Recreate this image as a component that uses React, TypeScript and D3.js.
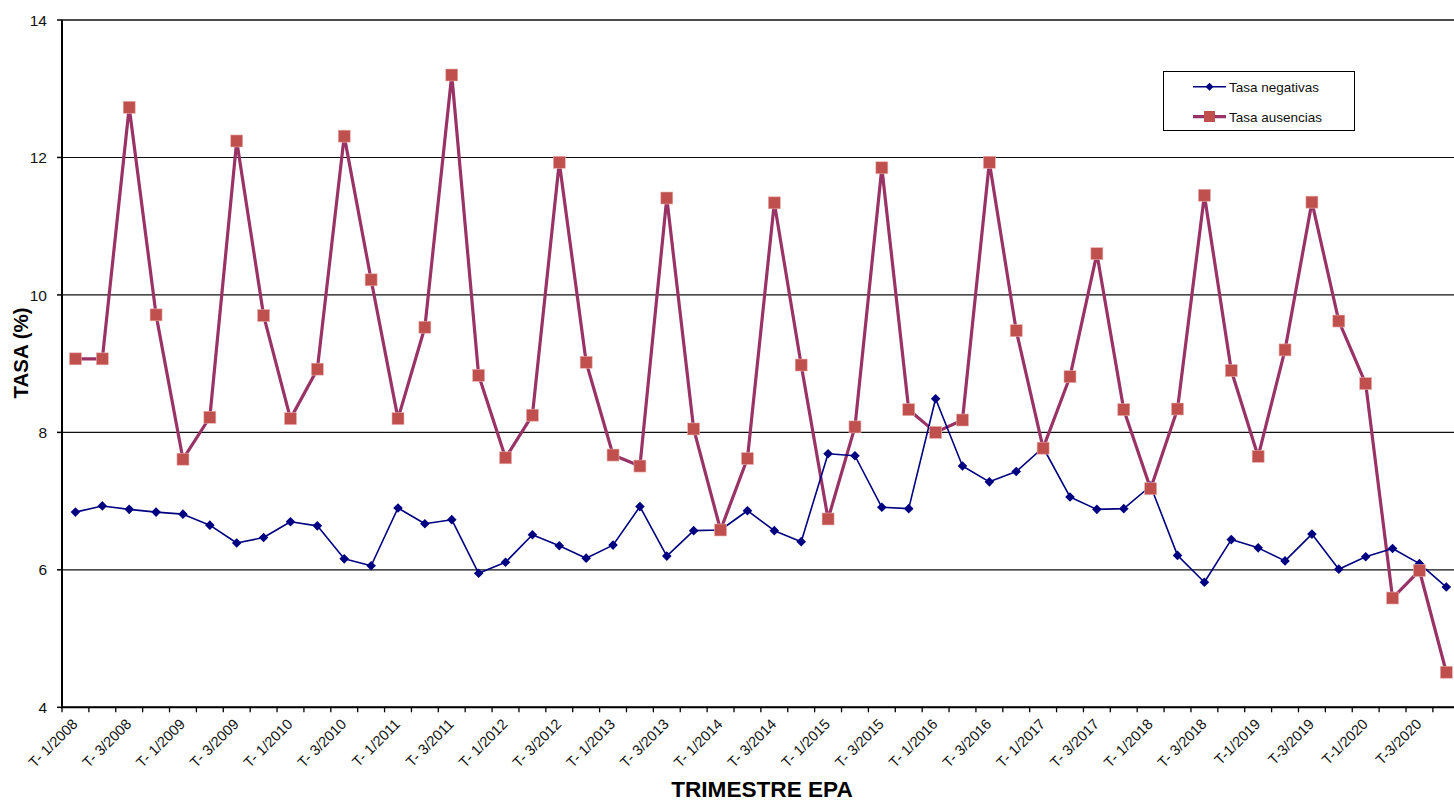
import React from "react";
import * as d3 from "d3";

const categories: string[] = [
  "T- 1/2008", "T- 2/2008", "T- 3/2008", "T- 4/2008",
  "T- 1/2009", "T- 2/2009", "T- 3/2009", "T- 4/2009",
  "T- 1/2010", "T- 2/2010", "T- 3/2010", "T- 4/2010",
  "T- 1/2011", "T- 2/2011", "T- 3/2011", "T- 4/2011",
  "T- 1/2012", "T- 2/2012", "T- 3/2012", "T- 4/2012",
  "T- 1/2013", "T- 2/2013", "T- 3/2013", "T- 4/2013",
  "T- 1/2014", "T- 2/2014", "T- 3/2014", "T- 4/2014",
  "T- 1/2015", "T- 2/2015", "T- 3/2015", "T- 4/2015",
  "T- 1/2016", "T- 2/2016", "T- 3/2016", "T- 4/2016",
  "T- 1/2017", "T- 2/2017", "T- 3/2017", "T- 4/2017",
  "T- 1/2018", "T- 2/2018", "T- 3/2018", "T- 4/2018",
  "T-1/2019", "T-2/2019", "T-3/2019", "T-4/2019",
  "T-1/2020", "T-2/2020", "T-3/2020", "T-4/2020",
];

const tasaNegativas: number[] = [
  6.84, 6.93, 6.88, 6.84, 6.81, 6.65, 6.39, 6.47,
  6.70, 6.64, 6.16, 6.06, 6.90, 6.67, 6.73, 5.95,
  6.11, 6.51, 6.35, 6.17, 6.36, 6.92, 6.20, 6.57,
  6.58, 6.86, 6.57, 6.41, 7.69, 7.66, 6.91, 6.89,
  8.49, 7.51, 7.28, 7.43, 7.78, 7.06, 6.88, 6.89,
  7.22, 6.21, 5.82, 6.44, 6.32, 6.13, 6.52, 6.01,
  6.19, 6.31, 6.09, 5.75,
];

const tasaAusencias: number[] = [
  9.07, 9.07, 12.73, 9.71, 7.61, 8.22, 12.24, 9.70,
  8.20, 8.92, 12.31, 10.22, 8.20, 9.53, 13.20, 8.83,
  7.63, 8.25, 11.93, 9.02, 7.67, 7.51, 11.41, 8.05,
  6.58, 7.62, 11.34, 8.98, 6.74, 8.08, 11.85, 8.33,
  8.00, 8.18, 11.93, 9.48, 7.77, 8.81, 10.60, 8.33,
  7.18, 8.34, 11.45, 8.90, 7.65, 9.20, 11.35, 9.62,
  8.71, 5.59, 5.99, 4.51,
];

const yTicks: number[] = [4, 6, 8, 10, 12, 14];

const seriesNames = ["Tasa negativas", "Tasa ausencias"];

const W = 1454;
const H = 801;
const FONT = "'Liberation Sans', Arial, sans-serif";

export default function App() {
  const left = 62;
  const top = 20;
  const bottom = 707.3;
  const band = 26.88;
  const x = d3
    .scaleBand<string>()
    .domain(categories)
    .range([left, left + band * categories.length])
    .padding(0);
  const y = d3.scaleLinear().domain([4, 14]).range([bottom, top]);
  const cx = (i: number) => (x(categories[i]) as number) + x.bandwidth() / 2;

  const line = d3
    .line<number>()
    .x((_, i) => cx(i))
    .y((v) => y(v));

  const blue = "#000080";
  const lineRed = "#993366";
  const markRed = "#C0504D";

  const diamond = (px: number, py: number, r: number) =>
    `M${px},${py - r}L${px + r},${py}L${px},${py + r}L${px - r},${py}Z`;

  const tickXs = d3.range(categories.length + 1).map((k) => left + k * band);

  return (
    <svg
      width={W}
      height={H}
      style={{ position: "absolute", left: 0, top: 0, background: "#fff" }}
      fontFamily={FONT}
    >
      <rect x={0} y={0} width={W} height={H} fill="#fff" />
      {yTicks.map((t) => (
        <line
          key={"g" + t}
          x1={left}
          x2={W}
          y1={y(t)}
          y2={y(t)}
          stroke="#111"
          strokeWidth={t === 14 ? 1.6 : 1.1}
        />
      ))}
      <line x1={left} x2={left} y1={top} y2={bottom + 1} stroke="#000" strokeWidth={2} />
      {yTicks.map((t) => (
        <g key={"yt" + t}>
          <line x1={left - 5} x2={left} y1={y(t)} y2={y(t)} stroke="#000" strokeWidth={1.5} />
          <text x={47} y={y(t)} dy="0.36em" textAnchor="end" fontSize={15.5} fill="#111">
            {t}
          </text>
        </g>
      ))}
      <line x1={left - 1} x2={W} y1={bottom} y2={bottom} stroke="#000" strokeWidth={2} />
      {tickXs.map((tx, k) => (
        <line key={"xt" + k} x1={tx} x2={tx} y1={bottom} y2={bottom + 5} stroke="#000" strokeWidth={1.3} />
      ))}
      {categories.map((c, i) =>
        i % 2 === 0 ? (
          <text
            key={"xl" + i}
            transform={`translate(${cx(i) + 3},${725}) rotate(-45)`}
            textAnchor="end"
            fontSize={14.6}
            fill="#111"
          >
            {c}
          </text>
        ) : null
      )}
      <text
        transform={`translate(28,353) rotate(-90)`}
        textAnchor="middle"
        fontSize={20.5}
        fontWeight="bold"
        fill="#000"
      >
        TASA (%)
      </text>
      <text x={762} y={797} textAnchor="middle" fontSize={22.6} fontWeight="bold" fill="#000">
        TRIMESTRE EPA
      </text>
      <path d={line(tasaAusencias) || ""} fill="none" stroke={lineRed} strokeWidth={3.2} strokeLinejoin="round" />
      <path d={line(tasaNegativas) || ""} fill="none" stroke={blue} strokeWidth={1.6} strokeLinejoin="round" />
      {tasaNegativas.map((v, i) => (
        <path key={"bn" + i} d={diamond(cx(i), y(v), 4.8)} fill={blue} />
      ))}
      {tasaAusencias.map((v, i) => (
        <rect
          key={"ra" + i}
          x={cx(i) - 6}
          y={y(v) - 6}
          width={12}
          height={12}
          fill={markRed}
          stroke="#e8b0ae"
          strokeWidth={0.6}
        />
      ))}
      <rect x={1163.5} y={71.5} width={191} height={59} fill="#fff" stroke="#000" strokeWidth={1} />
      <line x1={1193} x2={1226} y1={86.7} y2={86.7} stroke={blue} strokeWidth={1.6} />
      <path d={diamond(1209.5, 86.7, 4)} fill={blue} />
      <text x={1229} y={86.7} dy="0.36em" fontSize={13.5} fill="#111">
        {seriesNames[0]}
      </text>
      <line x1={1193} x2={1226} y1={116.7} y2={116.7} stroke={lineRed} strokeWidth={3.2} />
      <rect x={1204} y={111} width={11} height={11} fill={markRed} />
      <text x={1229} y={116.7} dy="0.36em" fontSize={13.5} fill="#111">
        {seriesNames[1]}
      </text>
    </svg>
  );
}
